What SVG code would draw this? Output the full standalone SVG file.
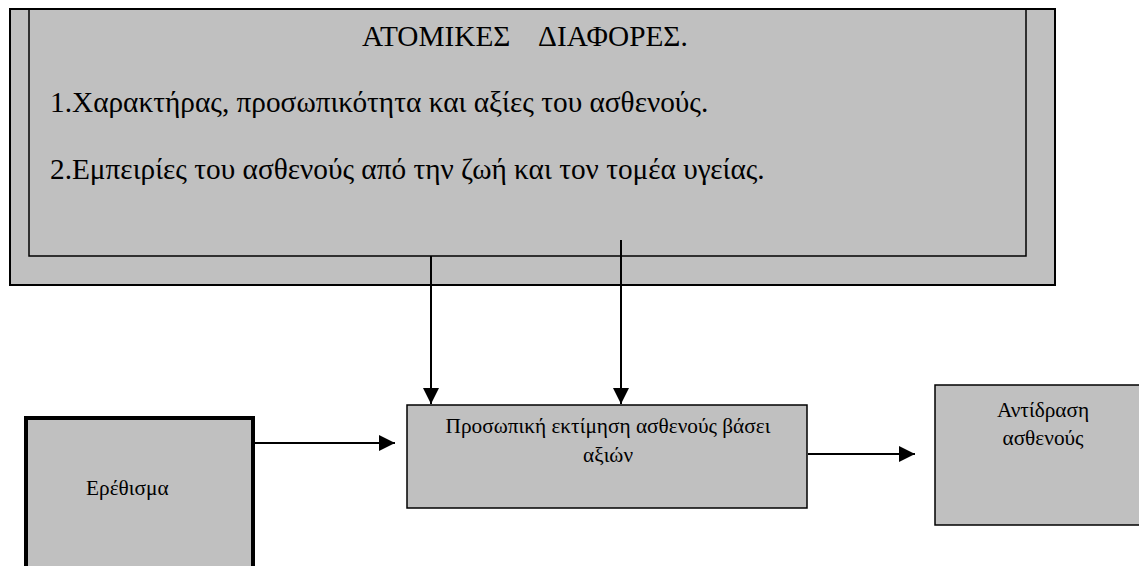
<svg xmlns="http://www.w3.org/2000/svg" width="1139" height="566" viewBox="0 0 1139 566">
<style>
.box{fill:#c0c0c0;stroke:#000}
.c{stroke:#000;stroke-width:2;fill:none}
</style>
<defs>
<marker id="ah" markerUnits="userSpaceOnUse" markerWidth="16" markerHeight="16" viewBox="0 0 14 14" refX="14" refY="7" orient="auto">
<path d="M0,0 L14,7 L0,14 Z" fill="#000"/>
</marker>
</defs>
<rect width="1139" height="566" fill="#fff"/>
<g id="atomikes" font-family="Liberation Serif, serif">
<rect class="box" x="10" y="9" width="1045" height="276" stroke-width="2"/>
<path d="M29,9 V256 H1026 V9" fill="none" stroke="#000" stroke-width="1.5"/>
<text x="362" y="46" font-size="29.3" xml:space="preserve">ΑΤΟΜΙΚΕΣ    ΔΙΑΦΟΡΕΣ.</text>
<text x="50" y="112" font-size="29.3">1.Χαρακτήρας, προσωπικότητα και αξίες του ασθενούς.</text>
<text x="50" y="179" font-size="29.3">2.Εμπειρίες του ασθενούς από την ζωή και τον τομέα υγείας.</text>
</g>
<g id="erethisma" font-family="Liberation Serif, serif">
<rect class="box" x="26" y="418" width="227" height="160" stroke-width="4"/>
<text x="86" y="495" font-size="21.3">Ερέθισμα</text>
</g>
<g id="ektimisi" font-family="Liberation Serif, serif">
<rect class="box" x="407" y="405" width="400" height="103" stroke-width="1.5"/>
<text x="608" y="433" font-size="21.3" text-anchor="middle">Προσωπική εκτίμηση ασθενούς βάσει</text>
<text x="608" y="462" font-size="21.3" text-anchor="middle">αξιών</text>
</g>
<g id="antidrasi" font-family="Liberation Serif, serif">
<rect class="box" x="935" y="385" width="215" height="140" stroke-width="1.5"/>
<text x="1043" y="417" font-size="21.3" text-anchor="middle">Αντίδραση</text>
<text x="1043" y="445" font-size="21.3" text-anchor="middle">ασθενούς</text>
</g>
<g id="connectors">
<line class="c" x1="431" y1="256" x2="431" y2="404" marker-end="url(#ah)"/>
<line class="c" x1="621" y1="240" x2="621" y2="404" marker-end="url(#ah)"/>
<line class="c" x1="255" y1="443" x2="395" y2="443" marker-end="url(#ah)"/>
<line class="c" x1="808" y1="454" x2="915" y2="454" marker-end="url(#ah)"/>
</g>
</svg>
